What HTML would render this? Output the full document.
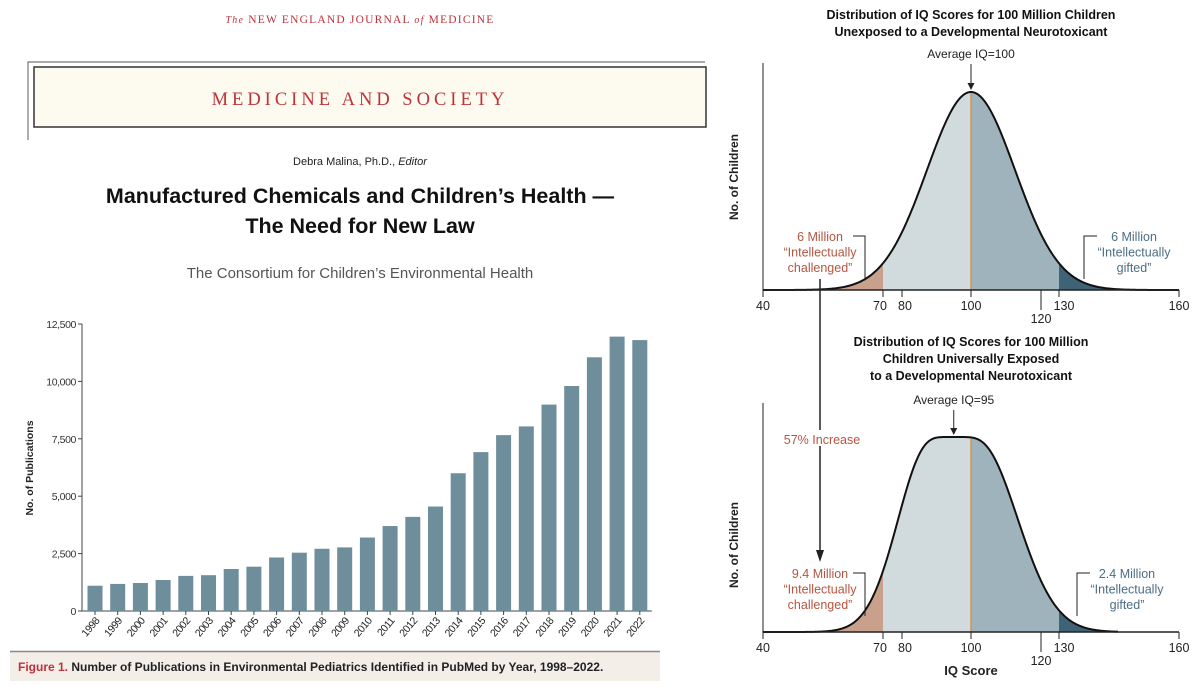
<!DOCTYPE html>
<html><head><meta charset="utf-8">
<style>
body{margin:0;width:1200px;height:686px;background:#fff;overflow:hidden;font-family:"Liberation Sans",sans-serif;}
svg{position:absolute;left:0;top:0}
</style></head>
<body>
<svg width="1200" height="686" viewBox="0 0 1200 686">
  <g>
    <text x="360" y="23" text-anchor="middle" fill="#c0313a" font-family="Liberation Serif" font-size="11.5" letter-spacing="1.2"><tspan font-style="italic" font-size="10">The</tspan> NEW ENGLAND JOURNAL <tspan font-style="italic" font-size="10">of</tspan> MEDICINE</text>
    <path d="M28 140 V62 H705" fill="none" stroke="#777" stroke-width="1.2"/>
    <rect x="34" y="67" width="672" height="60" fill="#fdfbef" stroke="#333" stroke-width="1.5"/>
    <text x="360" y="105" text-anchor="middle" fill="#c0313a" font-family="Liberation Serif" font-size="18.5" letter-spacing="4">MEDICINE AND SOCIETY</text>
    <text x="360" y="165" text-anchor="middle" fill="#222" font-size="11">Debra Malina, Ph.D., <tspan font-style="italic">Editor</tspan></text>
    <text x="360" y="203" text-anchor="middle" fill="#111" font-size="21.5" font-weight="bold">Manufactured Chemicals and Children’s Health —</text>
    <text x="360" y="233" text-anchor="middle" fill="#111" font-size="21.5" font-weight="bold">The Need for New Law</text>
    <text x="360" y="278" text-anchor="middle" fill="#555" font-size="15">The Consortium for Children’s Environmental Health</text>
  </g>
  <g id="bars"></g>
  <g>
    <rect x="10" y="651" width="650" height="30" fill="#f3eee8"/>
    <line x1="10" y1="651.5" x2="660" y2="651.5" stroke="#888" stroke-width="1.5"/>
    <text x="18" y="671" font-size="12" font-weight="bold" fill="#222"><tspan fill="#c0313a">Figure 1.</tspan> Number of Publications in Environmental Pediatrics Identified in PubMed by Year, 1998–2022.</text>
  </g>
  <g id="iq"></g>
</svg>
<script>
const years=["1998","1999","2000","2001","2002","2003","2004","2005","2006","2007","2008","2009","2010","2011","2012","2013","2014","2015","2016","2017","2018","2019","2020","2021","2022"];
const pubs=[1100,1180,1220,1350,1530,1560,1830,1930,2330,2540,2710,2770,3200,3700,4100,4550,6000,6920,7660,8040,8990,9800,11050,11950,11800];
const yTicks=[0,2500,5000,7500,10000,12500];
const yTickLabels=["0","2,500","5,000","7,500","10,000","12,500"];

const NS="http://www.w3.org/2000/svg";
function mk(tag,attrs,parent,txt){const e=document.createElementNS(NS,tag);for(const k in attrs)e.setAttribute(k,attrs[k]);if(txt!==undefined)e.textContent=txt;parent.appendChild(e);return e;}

(function(){
  const g=document.getElementById('bars');
  const x0=82,y0=611,yTop=324,step=22.7,first=95,bw=15;
  const ys=v=>y0-(v/12500)*(y0-yTop);
  const xs=i=>first+i*step;
  const axis=mk('line',{x1:x0,y1:yTop,x2:x0,y2:y0,stroke:'#444','stroke-width':1},g);
  
  
  const xaxis=mk('line',{x1:x0,y1:y0,x2:xs(years.length-1)+12,y2:y0,stroke:'#444','stroke-width':1},g);
  
  
  yTicks.forEach((v,i)=>{
    mk('line',{x1:x0-4,y1:ys(v),x2:x0,y2:ys(v),stroke:'#444'},g);
    const t=mk('text',{x:x0-6,y:ys(v)+4,'text-anchor':'end','font-size':10.5,fill:'#333','letter-spacing':'-0.4'},g,yTickLabels[i]);
    
    
  });
  const yt=mk('text',{transform:'translate(33,468) rotate(-90)','text-anchor':'middle','font-size':10.5,'font-weight':'bold',fill:'#222'},g,'No. of Publications');
  
  
  years.forEach((yr,i)=>{
    const r=mk('rect',{x:xs(i)-bw/2,y:ys(pubs[i]),width:bw,height:y0-ys(pubs[i]),fill:'#6f8e9c'},g);
    
    
    mk('line',{x1:xs(i),y1:y0,x2:xs(i),y2:y0+4,stroke:'#444'},g);
    const t=mk('text',{transform:`translate(${xs(i)+5},${y0+10}) rotate(-50)`,'text-anchor':'end','font-size':10.5,fill:'#222','letter-spacing':'-0.5'},g,yr);
    
    
  });
})();

// IQ axis tick values (axis is drawn non-linearly, as in the source figure)
const iqTicks=[40,70,80,100,120,130,160];
const iqMeans=[100,95];
const iqSdLeft=[15,10.6];   // spread in IQ units below the mean
const iqSdRight=[15,13.3];  // spread in IQ units above the mean
const iqPlateau=[0,8];      // flat-top half-width in IQ units

(function(){
  const g=document.getElementById('iq');
  const anchV=[40,70,80,100,120,130,160];
  const anchX=[763,883,902,971,1041,1059,1179];
  const X=v=>{for(let i=0;i<anchV.length-1;i++){if(v<=anchV[i+1]||i===anchV.length-2){const t=(v-anchV[i])/(anchV[i+1]-anchV[i]);return anchX[i]+t*(anchX[i+1]-anchX[i]);}}};
  const PX=88/30;
  const panels=[
    {base:290,top:63,peak:92,titles:[[19,"Distribution of IQ Scores for 100 Million Children"],[36,"Unexposed to a Developmental Neurotoxicant"]],avg:"Average IQ=100",avgY:58,ylab:177,left:["6 Million","“Intellectually","challenged”"],right:["6 Million","“Intellectually","gifted”"],labY:241,end:1179},
    {base:632,top:403,peak:437,titles:[[346,"Distribution of IQ Scores for 100 Million"],[363,"Children Universally Exposed"],[380,"to a Developmental Neurotoxicant"]],avg:"Average IQ=95",avgY:404,ylab:545,left:["9.4 Million","“Intellectually","challenged”"],right:["2.4 Million","“Intellectually","gifted”"],labY:578,end:1118}
  ];
  panels.forEach((p,k)=>{
    const cx=X(iqMeans[k]),w=iqPlateau[k]*PX,sl=iqSdLeft[k]*PX,sr=iqSdRight[k]*PX;
    const f=px=>{const d=px-cx;const ad=Math.abs(d);const a=w>0?ad-w*Math.tanh(ad/w):ad;const s=d<0?sl:sr;return Math.exp(-0.5*(a/s)*(a/s));};
    const Y=px=>p.base-(p.base-p.peak)*f(px);
    const seg=(a,b,fill,name)=>{
      let d=`M${a},${p.base}`;
      for(let x=a;x<=b+1e-9;x+=1)d+=` L${x},${Y(x)}`;
      d+=` L${b},${p.base} Z`;
      const e=mk('path',{d,fill},g);
      
      
    };
    seg(790,X(70),'#c9a08b','challenged-area');
    seg(X(70),X(100),'#d1dbde','below-100-area');
    seg(X(100),X(130),'#9fb3bc','above-100-area');
    seg(X(130),1160,'#3f6376','gifted-area');
    mk('line',{x1:X(100),y1:p.base,x2:X(100),y2:Y(X(100)),stroke:'#d39150','stroke-width':1.5},g);
    let d='';
    for(let x=763;x<=p.end;x+=1)d+=(d?' L':'M')+x+','+Y(x);
    const c=mk('path',{d,fill:'none',stroke:'#111','stroke-width':2},g);
    
    
    mk('line',{x1:763,y1:p.top,x2:763,y2:p.base,stroke:'#222','stroke-width':1},g);
    mk('line',{x1:763,y1:p.base,x2:1179,y2:p.base,stroke:'#222','stroke-width':1.5},g);
    iqTicks.forEach(v=>{
      const long=v===120;
      mk('line',{x1:X(v),y1:p.base,x2:X(v),y2:p.base+(long?20:7),stroke:'#222'},g);
      const t=mk('text',{x:X(v)+(v===70?-3:v===80?3:v===130?5:0),y:p.base+(long?33:20),'text-anchor':'middle','font-size':12.5,fill:'#222'},g,String(v));
      
      
    });
    p.titles.forEach(([y,s])=>{
      const t=mk('text',{x:971,y,'text-anchor':'middle','font-size':12.5,'font-weight':'bold',fill:'#111'},g,s);
      
      
    });
    const at=mk('text',{x:cx,y:p.avgY,'text-anchor':'middle','font-size':12,fill:'#222'},g,p.avg);
    
    
    mk('line',{x1:cx,y1:p.avgY+6,x2:cx,y2:p.peak-6,stroke:'#222'},g);
    mk('path',{d:`M${cx-3.5},${p.peak-9} L${cx+3.5},${p.peak-9} L${cx},${p.peak-2} Z`,fill:'#222'},g);
    const yl=mk('text',{transform:`translate(738,${p.ylab}) rotate(-90)`,'text-anchor':'middle','font-size':12,'font-weight':'bold',fill:'#222'},g,'No. of Children');
    
    
    p.left.forEach((s,i)=>{
      const t=mk('text',{x:820,y:p.labY+i*15.5,'text-anchor':'middle','font-size':12.5,fill:'#b5553f'},g,s);
      
      
    });
    p.right.forEach((s,i)=>{
      const t=mk('text',{x:k?1127:1134,y:p.labY+i*15.5,'text-anchor':'middle','font-size':12.5,fill:'#4b6e84'},g,s);
      
      
    });
    mk('path',{d:`M853,${p.labY-5} H865 V${p.labY+38}`,fill:'none',stroke:'#222'},g);
    const rx=k?1077:1084;
    mk('path',{d:`M${rx+13},${p.labY-5} H${rx} V${p.labY+38}`,fill:'none',stroke:'#222'},g);
  });
  mk('line',{x1:820,y1:279,x2:820,y2:552,stroke:'#222','stroke-width':1.5},g);
  mk('path',{d:'M816,550 L824,550 L820,562 Z',fill:'#222'},g);
  mk('rect',{x:772,y:430,width:100,height:16,fill:'#fff'},g);
  const inc=mk('text',{x:822,y:444,'text-anchor':'middle','font-size':12.5,fill:'#b5553f'},g,'57% Increase');
  
  
  const xl=mk('text',{x:971,y:675,'text-anchor':'middle','font-size':13,'font-weight':'bold',fill:'#222'},g,'IQ Score');
  
  
})();
</script>
</body></html>
